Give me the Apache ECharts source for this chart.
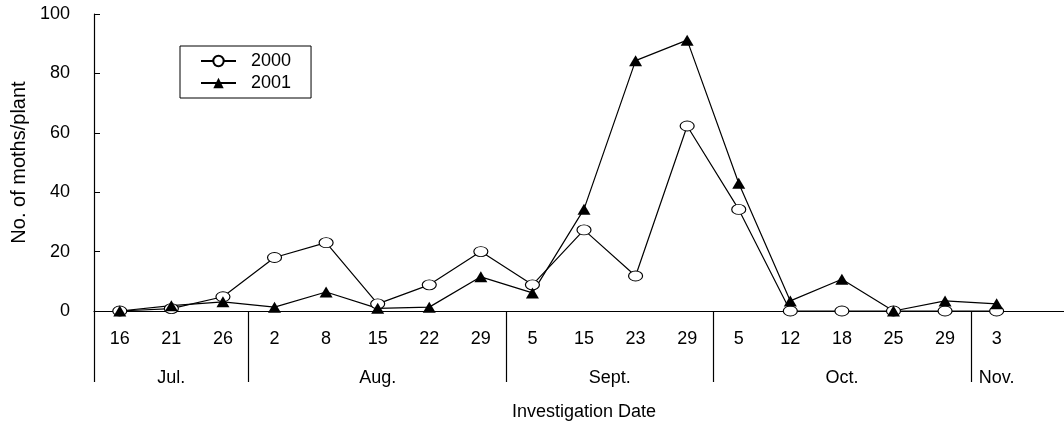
<!DOCTYPE html>
<html>
<head>
<meta charset="utf-8">
<script src="https://cdn.jsdelivr.net/npm/echarts@6/dist/echarts.min.js"></script>
<style>
html,body{margin:0;padding:0;background:#fff;}
#chart{width:1064px;height:423px;}
</style>
</head>
<body>
<div id="chart"></div>
<script>
const categories = ['16','21','26','2','8','15','22','29','5','15','23','29','5','12','18','25','29','3'];
const months = ['Jul.','Aug.','Sept.','Oct.','Nov.'];
const monthSpans = [3, 5, 4, 5, 1];
const moths2000 = [0, 0.8, 4.8, 18, 23, 2.4, 8.8, 20, 8.8, 27.3, 11.8, 62.3, 34.2, 0, 0, 0, 0, 0];
const moths2001 = [0, 1.8, 3.1, 1.3, 6.4, 0.9, 1.3, 11.5, 6.1, 34.3, 84.3, 91.2, 43, 3.4, 10.7, 0, 3.4, 2.4];
const seriesNames = ['2000', '2001'];
const yTicks = [0, 20, 40, 60, 80, 100];

// month boundaries & centres (in category-index units)
const boundaries = [];
const centres = [];
let start = 0;
monthSpans.forEach(n => {
  boundaries.push(start - 0.5);
  centres.push(start + (n - 1) / 2);
  start += n;
});

const font = 'Liberation Sans, Arial, Helvetica, sans-serif';
const chart = echarts.init(document.getElementById('chart'), null, {renderer: 'canvas'});
chart.setOption({
  animation: false,
  backgroundColor: '#fff',
  textStyle: {fontFamily: font, color: '#000'},
  grid: {left: 94, top: 14, bottom: 112, width: 980, containLabel: false, outerBoundsMode: 'none'},
  legend: {
    left: 180, top: 46, orient: 'vertical',
    data: seriesNames,
    borderColor: '#000', borderWidth: 1, borderRadius: 0,
    padding: [6, 20, 6, 20],
    itemGap: 4, itemWidth: 35, itemHeight: 13,
    textStyle: {fontSize: 18, color: '#000', fontFamily: font, padding: [0, 0, 0, 10]}
  },
  xAxis: [{
    type: 'category',
    data: categories.concat(['']),
    boundaryGap: true,
    axisLine: {lineStyle: {color: '#000', width: 1.2}},
    axisTick: {show: false},
    axisLabel: {color: '#000', fontSize: 18, margin: 19, fontFamily: font, interval: 0},
    splitLine: {show: false}
  }, {
    type: 'value',
    min: -0.5, max: categories.length + 0.5,
    position: 'bottom',
    axisLine: {show: false},
    splitLine: {show: false},
    axisTick: {show: true, customValues: boundaries, length: 71, lineStyle: {color: '#000', width: 1.2}},
    axisLabel: {
      customValues: centres, margin: 58, fontSize: 18, color: '#000', fontFamily: font,
      formatter: v => { const i = centres.indexOf(v); return i >= 0 ? months[i] : ''; }
    },
    name: 'Investigation Date',
    nameLocation: 'middle',
    nameGap: 92,
    nameTextStyle: {fontSize: 18, color: '#000', fontFamily: font}
  }],
  yAxis: {
    type: 'value',
    min: yTicks[0], max: yTicks[yTicks.length - 1], interval: 20,
    axisLine: {show: true, onZero: false, lineStyle: {color: '#000', width: 1.2}},
    axisTick: {show: true, inside: true, length: 6, lineStyle: {color: '#000'}},
    axisLabel: {color: '#000', fontSize: 18, margin: 24, fontFamily: font},
    splitLine: {show: false},
    name: 'No. of moths/plant',
    nameLocation: 'middle',
    nameGap: 65,
    nameTextStyle: {fontSize: 20, color: '#000', fontFamily: font}
  },
  series: [{
    name: seriesNames[0], type: 'line', xAxisIndex: 0,
    data: moths2000,
    symbol: 'circle', symbolSize: [14, 10],
    itemStyle: {color: '#fff', borderColor: '#000', borderWidth: 1},
    lineStyle: {color: '#000', width: 1.2}
  }, {
    name: seriesNames[1], type: 'line', xAxisIndex: 0,
    data: moths2001,
    symbol: 'triangle', symbolSize: [13, 11],
    itemStyle: {color: '#000'},
    lineStyle: {color: '#000', width: 1.2}
  }]
});
</script>
</body>
</html>
